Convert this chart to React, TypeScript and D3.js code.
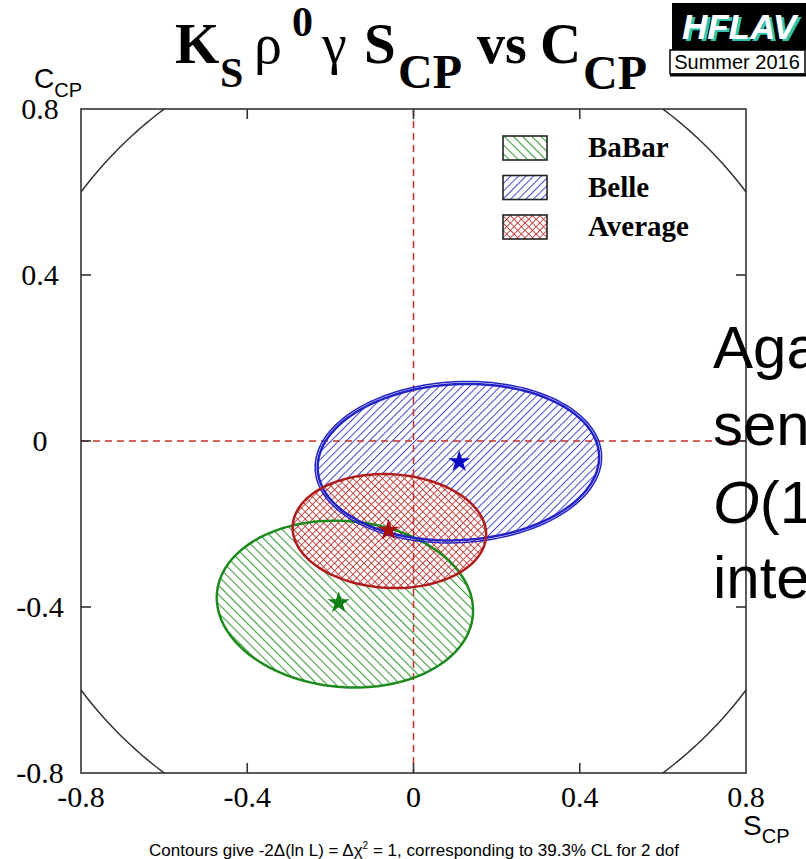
import * as d3 from "d3";

// fit results (S_CP, C_CP)
const experiments = ["BaBar", "Belle", "Average"];
const centerS = [-0.165, 0.108, -0.058];
const centerC = [-0.393, -0.051, -0.217];
const radiusS = [0.309, 0.339, 0.233];
const radiusC = [0.2, 0.188, 0.137];
const tiltDeg = [-5, 3, -3];
const bestS = [-0.18, 0.11, -0.06];
const bestC = [-0.39, -0.05, -0.215];

const tickValues = [-0.8, -0.4, 0, 0.4, 0.8];
const innerTicks = [-0.4, 0, 0.4];

const colors = {
  BaBar: { line: "#1d8a1d", hatch: "#3f9c3f", star: "#0f7f0f" },
  Belle: { line: "#2424c8", hatch: "#4545d6", star: "#0a0ac4" },
  Average: { line: "#b01c1c", hatch: "#c03c3c", star: "#a81010" },
} as Record<string, { line: string; hatch: string; star: string }>;

const W = 806;
const H = 859;
const left = 81,
  right = 746,
  top = 109,
  bottom = 773;

const serif = "'Liberation Serif', 'Times New Roman', serif";
const sans = "'Liberation Sans', Arial, sans-serif";
const narrow = "'Liberation Sans Narrow', 'Liberation Sans', sans-serif";

export default function App() {
  const x = d3.scaleLinear().domain([-0.8, 0.8]).range([left, right]);
  const y = d3.scaleLinear().domain([-0.8, 0.8]).range([bottom, top]);

  const ellipse = (i: number, grow = 0) => {
    const phi = (tiltDeg[i] * Math.PI) / 180;
    const a = radiusS[i] + grow;
    const b = radiusC[i] + grow;
    const pts: [number, number][] = d3.range(0, 121).map((k) => {
      const t = (k / 120) * 2 * Math.PI;
      const s = centerS[i] + a * Math.cos(t) * Math.cos(phi) - b * Math.sin(t) * Math.sin(phi);
      const c = centerC[i] + a * Math.cos(t) * Math.sin(phi) + b * Math.sin(t) * Math.cos(phi);
      return [s, c];
    });
    return d3
      .line<[number, number]>()
      .x((d) => x(d[0]))
      .y((d) => y(d[1]))
      .curve(d3.curveLinearClosed)(pts) as string;
  };

  // physical boundary S^2 + C^2 = 1
  const circle = d3
    .line<number>()
    .x((t) => x(Math.cos(t)))
    .y((t) => y(Math.sin(t)))
    .curve(d3.curveLinearClosed)(d3.range(0, 360).map((k) => (k / 360) * 2 * Math.PI)) as string;

  const star = d3.symbol(d3.symbolStar).size(150)() as string;
  const patternId = (name: string) => `hatch-${name}`;
  const fmt = (v: number) => d3.format("")(v).replace("−", "-");

  return (
    <svg
      width={W}
      height={H}
      style={{ position: "absolute", left: 0, top: 0, background: "#fff" }}
    >
      <defs>
        <clipPath id="frame">
          <rect x={left} y={top} width={right - left} height={bottom - top} />
        </clipPath>
        <pattern
          id={patternId("BaBar")}
          patternUnits="userSpaceOnUse"
          width={6.5}
          height={6.5}
          patternTransform="rotate(-45)"
        >
          <line x1={0} y1={0} x2={0} y2={6.5} stroke={colors.BaBar.hatch} strokeWidth={2.2} />
        </pattern>
        <pattern
          id={patternId("Belle")}
          patternUnits="userSpaceOnUse"
          width={5.4}
          height={5.4}
          patternTransform="rotate(45)"
        >
          <line x1={0} y1={0} x2={0} y2={5.4} stroke={colors.Belle.hatch} strokeWidth={2} />
        </pattern>
        <pattern
          id={patternId("Average")}
          patternUnits="userSpaceOnUse"
          width={5.2}
          height={5.2}
          patternTransform="rotate(45)"
        >
          <line x1={0} y1={0} x2={0} y2={5.2} stroke={colors.Average.hatch} strokeWidth={1.8} />
          <line x1={0} y1={0} x2={5.2} y2={0} stroke={colors.Average.hatch} strokeWidth={1.8} />
        </pattern>
      </defs>

      {/* title */}
      <text fontFamily={serif} fontWeight="bold" fill="#000">
        <tspan x={175} y={63} fontSize={57}>K</tspan>
        <tspan x={220} y={87} fontSize={42}>S</tspan>
        <tspan x={254} y={63} fontSize={56} fontWeight="normal">ρ</tspan>
        <tspan x={292} y={36} fontSize={42}>0</tspan>
        <tspan x={322} y={63} fontSize={56} fontWeight="normal">γ</tspan>
        <tspan x={364} y={63} fontSize={57}>S</tspan>
        <tspan x={398} y={88} fontSize={48}>CP</tspan>
        <tspan x={477} y={63} fontSize={56}>vs</tspan>
        <tspan x={540} y={63} fontSize={57}>C</tspan>
        <tspan x={583} y={89} fontSize={48}>CP</tspan>
      </text>

      {/* HFLAV logo */}
      <rect x={672} y={3} width={140} height={47} fill="#000" />
      <text x={742} y={41} textAnchor="middle" fontFamily={sans} fontStyle="italic" fontWeight="bold" fontSize={35} fill="#2ec4b0">HFLAV</text>
      <text x={739} y={39} textAnchor="middle" fontFamily={sans} fontStyle="italic" fontWeight="bold" fontSize={35} fill="#fff">HFLAV</text>
      <rect x={670} y={50} width={135} height={24} fill="#fff" stroke="#000" strokeWidth={1.5} />
      <line x1={670} y1={75} x2={806} y2={75} stroke="#000" strokeWidth={3} />
      <text x={737} y={69} textAnchor="middle" fontFamily={narrow} fontSize={20} fill="#000">Summer 2016</text>

      {/* physical boundary */}
      <path d={circle} fill="none" stroke="#333" strokeWidth={1.5} clipPath="url(#frame)" />

      {/* contour fills */}
      {experiments.map((name, i) => (
        <g key={`fill-${name}`}>
          <path d={ellipse(i)} fill="#fff" />
          <path d={ellipse(i)} fill={`url(#${patternId(name)})`} />
        </g>
      ))}

      {/* zero lines */}
      <line x1={x(0)} x2={x(0)} y1={top} y2={bottom} stroke="#c8322a" strokeWidth={1.5} strokeDasharray="7,5" />
      <line x1={left} x2={right} y1={y(0)} y2={y(0)} stroke="#c8322a" strokeWidth={1.5} strokeDasharray="7,5" />

      {/* contour outlines */}
      {experiments.map((name, i) => (
        <g key={`line-${name}`} fill="none" stroke={colors[name].line}>
          <path d={ellipse(i)} strokeWidth={2.5} />
          {name === "Belle" && <path d={ellipse(i, 0.006)} strokeWidth={1.5} />}
        </g>
      ))}

      {/* best fit points */}
      {experiments.map((name, i) => (
        <path
          key={`star-${name}`}
          d={star}
          transform={`translate(${x(bestS[i])},${y(bestC[i])})`}
          fill={colors[name].star}
        />
      ))}

      {/* frame and ticks */}
      <rect x={left} y={top} width={right - left} height={bottom - top} fill="none" stroke="#333" strokeWidth={1.6} />
      <g stroke="#333" strokeWidth={1.6}>
        {innerTicks.map((v) => (
          <g key={`tick-${v}`}>
            <line x1={x(v)} x2={x(v)} y1={bottom} y2={bottom - 10} />
            <line x1={x(v)} x2={x(v)} y1={top} y2={top + 10} />
            <line x1={left} x2={left + 10} y1={y(v)} y2={y(v)} />
            <line x1={right} x2={right - 10} y1={y(v)} y2={y(v)} />
          </g>
        ))}
      </g>

      {/* tick labels */}
      <g fontFamily={serif} fontSize={30} fill="#000" textAnchor="middle">
        {tickValues.map((v) => (
          <text key={`xl-${v}`} x={x(v)} y={807}>
            {fmt(v)}
          </text>
        ))}
        {tickValues.map((v) => (
          <text key={`yl-${v}`} x={40} y={y(v) + 10}>
            {fmt(v)}
          </text>
        ))}
      </g>

      {/* axis titles */}
      <text fontFamily={sans} fill="#000">
        <tspan x={34} y={88} fontSize={28}>C</tspan>
        <tspan fontSize={20} dy={9}>CP</tspan>
      </text>
      <text fontFamily={sans} fill="#000">
        <tspan x={743} y={835} fontSize={28}>S</tspan>
        <tspan fontSize={20} dy={8}>CP</tspan>
      </text>

      {/* legend */}
      {experiments.map((name, i) => (
        <g key={`leg-${name}`} transform={`translate(503,${136 + i * 39.5})`}>
          <rect width={44} height={24} fill="#fff" />
          <rect width={44} height={24} fill={`url(#${patternId(name)})`} stroke="#222" strokeWidth={1.6} />
          <text x={85} y={21} fontFamily={serif} fontWeight="bold" fontSize={29} fill="#000">
            {name}
          </text>
        </g>
      ))}

      {/* caption */}
      <text x={414} y={856} textAnchor="middle" fontFamily={narrow} fontSize={17} fill="#000">
        Contours give -2Δ(ln L) = Δχ<tspan fontSize={10} dy={-7}>2</tspan>
        <tspan dy={7}> = 1, corresponding to 39.3% CL for 2 dof</tspan>
      </text>

      {/* overlapping slide text */}
      <g fontFamily={sans} fontSize={60} fill="#000">
        <text x={713} y={368}>Aga</text>
        <text x={713} y={445}>sen</text>
        <text x={713} y={523}>
          <tspan fontStyle="italic">O</tspan>(1
        </text>
        <text x={713} y={598}>inte</text>
      </g>
    </svg>
  );
}
